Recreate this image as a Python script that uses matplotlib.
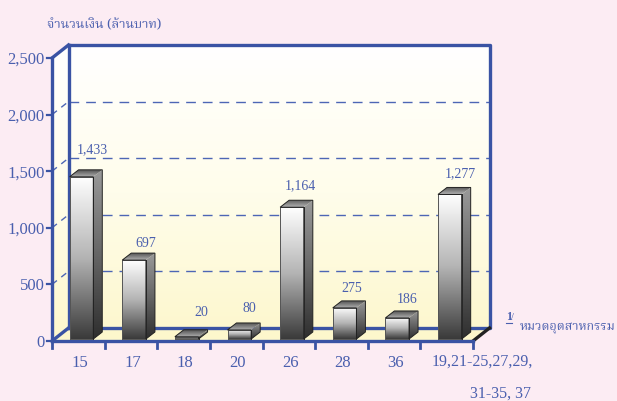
import numpy as np
import matplotlib
matplotlib.use('Agg')
import matplotlib.pyplot as plt
from matplotlib.colors import LinearSegmentedColormap
from matplotlib.lines import Line2D
from matplotlib.patches import Polygon

categories = ['15', '17', '18', '20', '26', '28', '36', '19,21-25,27,29,']
values = [1433, 697, 20, 80, 1164, 275, 186, 1277]
value_labels = ['1,433', '697', '20', '80', '1,164', '275', '186', '1,277']
y_ticks = [0, 500, 1000, 1500, 2000, 2500]

# hand placed label offsets from the bar's top, in pixels
label_dx = [10.5, 12, 14.5, 10.5, 8.5, 7, 10, 10.5]
label_dy = [27, 17, 24, 21, 22, 19, 18, 21]

W, H = 617, 401
BG = '#FCECF3'
BLUE = '#3A53A4'
DASH = '#4D66B5'
TXT = '#4A5FAE'
THAI = ['Noto Serif Thai', 'Sarabun', 'DejaVu Sans']

# front plane of the box, in pixels
x0, x1, y0, y1 = 52, 473, 341, 58
px_x = (x1 - x0) / 8
px_y = (y0 - y1) / 2500
wall_dx = 16.5 / px_x
wall_dy = 13 / px_y
bar_dx = 9 / px_x
bar_dy = 7 / px_y
lift = 2 / px_y
bw = 0.45
top = 2500 + wall_dy

plt.rcParams['font.family'] = ['Liberation Serif']
fig = plt.figure(figsize=(W / 100, H / 100), dpi=100, facecolor=BG)
ax = fig.add_axes([x0 / W, 1 - y0 / H, (x1 + 16.5 - x0) / W, (y0 - y1 + 13) / H])
ax.patch.set_alpha(0)
for s in ax.spines.values():
    s.set_visible(False)
ax.set_xticks([])
ax.set_yticks([])

wall = LinearSegmentedColormap.from_list('wall', ['#FFFFFF', '#FFFDEB', '#FDF7CC'])
bar_front = LinearSegmentedColormap.from_list('front', ['#FFFFFF', '#B4B4B4', '#3A3A3A'])
bar_side = LinearSegmentedColormap.from_list('side', ['#9A9A9A', '#666666', '#2E2E2E'])
bar_top = LinearSegmentedColormap.from_list('top', ['#555555', '#B0B0B0'])
grad = np.linspace(0, 1, 256).reshape(-1, 1)


def fill_grad(poly, cmap, z, extent):
    im = ax.imshow(grad, cmap=cmap, extent=extent, aspect='auto', zorder=z)
    p = Polygon(poly, fc='none', ec='none')
    ax.add_patch(p)
    im.set_clip_path(p)


# walls and floor
ext = [0, 8 + wall_dx, 0, top]
fill_grad([(wall_dx, wall_dy), (8 + wall_dx, wall_dy), (8 + wall_dx, top), (wall_dx, top)], wall, 1, ext)
fill_grad([(0, 0), (wall_dx, wall_dy), (wall_dx, top), (0, 2500)], wall, 1, ext)
ax.add_patch(Polygon([(0, 0), (8, 0), (8 + wall_dx, wall_dy), (wall_dx, wall_dy)], fc='#FDF7CC', ec='none', zorder=1))

# gridlines on the back wall and their slanted stubs on the side wall
for v in y_ticks[1:-1]:
    ax.plot([wall_dx, 8 + wall_dx], [v + wall_dy, v + wall_dy], color=DASH, lw=1.0,
            dashes=(7, 5), zorder=2)
    ax.plot([0, wall_dx], [v, v + wall_dy], color=DASH, lw=1.0, dashes=(4.5, 4), zorder=2)

# box outline
lw = 2.4
ax.plot([wall_dx, wall_dx], [wall_dy, top], color=BLUE, lw=lw, zorder=3, clip_on=False)
ax.plot([wall_dx, 8 + wall_dx, 8 + wall_dx, wall_dx], [top, top, wall_dy, wall_dy], color=BLUE, lw=lw, zorder=3, clip_on=False)
ax.plot([0, wall_dx], [2500, top], color=BLUE, lw=lw, zorder=3, clip_on=False)
ax.plot([0, 0], [0, 2500], color=BLUE, lw=lw, zorder=3, clip_on=False)
ax.plot([0, wall_dx], [0, wall_dy], color=BLUE, lw=lw, zorder=3, clip_on=False)
ax.plot([8, 8 + wall_dx], [0, wall_dy], color='#222222', lw=lw, zorder=3, clip_on=False)
ax.plot([0, 8], [0, 0], color=BLUE, lw=lw, zorder=6, clip_on=False)

# tick marks
for i in range(9):
    ax.plot([i, i], [0, -62], color=BLUE, lw=lw - 0.4, zorder=6, clip_on=False)
for v in y_ticks:
    ax.plot([-0.1, 0], [v, v], color=BLUE, lw=1.6, zorder=6, clip_on=False)
    ax.text(-0.14, v - 2 / px_y, f'{v:,}', ha='right', va='center', fontsize=12, color=TXT)

# bars
for i, v in enumerate(values):
    l = i + 0.335
    r = l + bw
    b = lift
    t = v + lift
    z = 10 + 2 * i
    ax.imshow(grad, cmap=bar_front, extent=[l, r, b, t], aspect='auto', zorder=z)
    ax.plot([l, r, r, l, l], [b, b, t, t, b], color='#555555', lw=0.7, zorder=z + 1)
    fill_grad([(r, b), (r + bar_dx, b + bar_dy), (r + bar_dx, t + bar_dy), (r, t)], bar_side, z,
              [r, r + bar_dx, b, t + bar_dy])
    fill_grad([(l, t), (r, t), (r + bar_dx, t + bar_dy), (l + bar_dx, t + bar_dy)], bar_top, z,
              [l, r + bar_dx, t, t + bar_dy])
    ax.add_patch(Polygon([(r, b), (r + bar_dx, b + bar_dy), (r + bar_dx, t + bar_dy), (l + bar_dx, t + bar_dy),
                          (l, t), (r, t)], fc='none', ec='#222222', lw=0.7, zorder=z + 1))
    ax.plot([r, r], [b, t], color='#222222', lw=0.6, zorder=z + 1)
    ax.annotate(value_labels[i], xy=(l + bw / 2, t), xytext=(label_dx[i] * 0.72, label_dy[i] * 0.72),
                textcoords='offset points', ha='center', va='center', fontsize=10, color=TXT, zorder=40)

ax.set_xlim(0, 8 + wall_dx)
ax.set_ylim(0, top)

# category labels
for i, c in enumerate(categories[:7]):
    ax.text(i + 0.53, -190, c, ha='center', va='center', fontsize=12, color=TXT)
fig.text(482 / W, 1 - 362 / H, categories[7], ha='center', va='center', fontsize=11.5, color=TXT)
fig.text(501 / W, 1 - 394 / H, '31-35, 37', ha='center', va='center', fontsize=11.5, color=TXT)

fig.text(47 / W, 1 - 25 / H, 'จำนวนเงิน (ล้านบาท)', family=THAI, fontweight='bold',
         ha='left', va='center', fontsize=9.3, color=TXT)
fig.text(520 / W, 1 - 328 / H, 'หมวดอุตสาหกรรม', family=THAI, ha='left', va='center',
         fontsize=9, color=TXT)
fig.text(506 / W, 1 - 317 / H, '1', fontweight='bold', ha='left', va='center', fontsize=8.5, color=TXT)
fig.text(511 / W, 1 - 317 / H, '/', ha='left', va='center', fontsize=7.5, color=TXT)
fig.add_artist(Line2D([506 / W, 512 / W], [1 - 323 / H, 1 - 323 / H], color=TXT, lw=0.8))

fig.savefig('out.png', dpi=100, facecolor=BG)
